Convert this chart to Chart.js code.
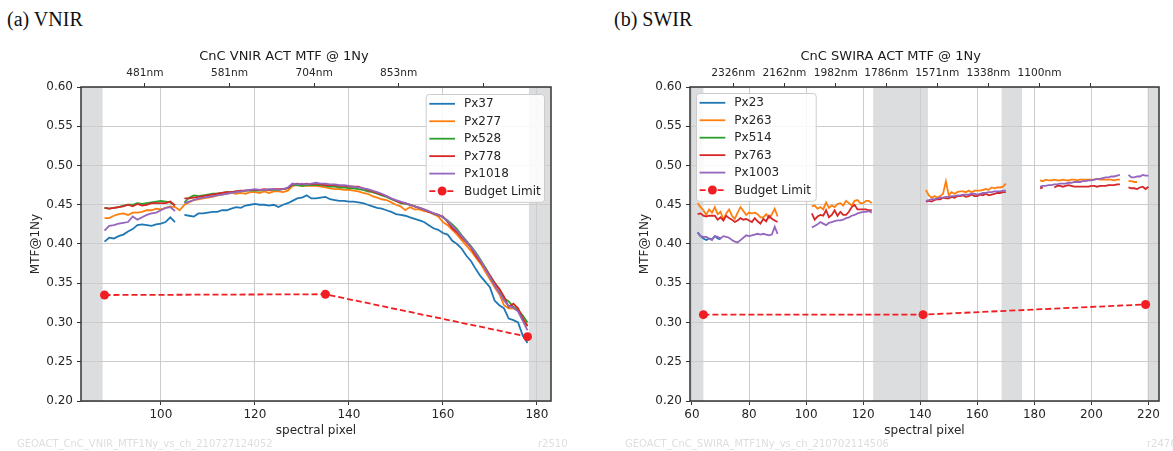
<!DOCTYPE html>
<html>
<head>
<meta charset="utf-8">
<script src="https://cdn.jsdelivr.net/npm/chart.js@4.4.1/dist/chart.umd.min.js"></script>
<style>
  body { margin: 0; background: #fff; }
  #page { position: relative; width: 1173px; height: 451px; overflow: hidden; font-family: "DejaVu Sans", sans-serif; }
  .panel { position: absolute; top: 8px; font-family: "Liberation Serif", serif; font-size: 20px; color: #111; }
  .stamp { position: absolute; top: 438px; font-size: 10px; line-height: 12px; color: #dedede; white-space: nowrap; }
  canvas { position: absolute; }
</style>
</head>
<body>
<div id="page">
  <div class="panel" style="left:7px">(a) VNIR</div>
  <div class="panel" style="left:614px">(b) SWIR</div>
  <canvas id="vnir" width="560" height="411" style="left:0;top:40px"></canvas>
  <canvas id="swir" width="568" height="411" style="left:600px;top:40px"></canvas>
  <div class="stamp" style="left:17px">GEOACT_CnC_VNIR_MTF1Ny_vs_ch_210727124052</div>
  <div class="stamp" style="left:538px">r2510</div>
  <div class="stamp" style="left:625px">GEOACT_CnC_SWIRA_MTF1Ny_vs_ch_210702114506</div>
  <div class="stamp" style="left:1147px">r2476</div>
</div>
<script>
/* ---------- data: VNIR ---------- */
const vnirPx = [88, 89, 90, 91, 92, 93, 94, 95, 96, 97,
  98, 99, 100, 101, 102, 103, 104, 105, 106, 107,
  108, 109, 110, 111, 112, 113, 114, 115, 116, 117,
  118, 119, 120, 121, 122, 123, 124, 125, 126, 127,
  128, 129, 130, 131, 132, 133, 134, 135, 136, 137,
  138, 139, 140, 141, 142, 143, 144, 145, 146, 147,
  148, 149, 150, 151, 152, 153, 154, 155, 156, 157,
  158, 159, 160, 161, 162, 163, 164, 165, 166, 167,
  168, 169, 170, 171, 172, 173, 174, 175, 176, 177, 178];

const vnirPx37 = [.403, .408, .407, .410, .412, .416, .419, .424, .425, .424,
  .423, .425, .426, .428, .434, .428, null, .437, .436, .435,
  .439, .439, .440, .441, .441, .443, .443, .445, .447, .446,
  .449, .450, .451, .450, .450, .449, .450, .447, .450, .452,
  .455, .458, .459, .462, .458, .458, .459, .460, .457, .456,
  .455, .455, .454, .454, .453, .452, .450, .448, .446, .445,
  .443, .441, .438, .437, .436, .434, .432, .430, .428, .424,
  .420, .418, .414, .412, .404, .400, .394, .385, .378, .368,
  .359, .352, .345, .328, .322, .318, .305, .303, .300, .283, .274];

const vnirPx277 = [.433, .433, .436, .438, .439, .437, .440, .440, .441, .443,
  .443, .445, .444, .446, .448, .447, .443, .450, .453, .456,
  .457, .458, .459, .460, .462, .463, .464, .465, .464, .465,
  .464, .466, .466, .465, .467, .465, .467, .467, .466, .468,
  .474, .475, .474, .474, .474, .474, .473, .472, .471, .470,
  .470, .469, .469, .468, .467, .465, .464, .461, .459, .457,
  .456, .453, .450, .448, .443, .447, .444, .444, .442, .441,
  .438, .435, .428, .424, .418, .412, .405, .398, .391, .383,
  .375, .365, .355, .345, .336, .322, .318, .318, .315, .305, .295];

const vnirPx528 = [.446, .445, .446, .447, .449, .450, .450, .452, .451, .452,
  .453, .454, .455, .454, .453, .449, null, .453, .459, .462,
  .461, .462, .463, .464, .464, .465, .466, .466, .467, .467,
  .468, .468, .468, .468, .469, .469, .469, .469, .470, .471,
  .475, .475, .474, .475, .475, .475, .475, .474, .473, .473,
  .472, .472, .471, .471, .470, .469, .467, .466, .464, .462,
  .460, .457, .455, .452, .451, .450, .448, .446, .444, .441,
  .439, .437, .434, .430, .425, .419, .411, .404, .397, .389,
  .380, .370, .360, .351, .342, .331, .327, .320, .316, .309, .300];

const vnirPx778 = [.446, .445, .446, .447, .448, .450, .448, .451, .449, .450,
  .452, .452, .452, .452, .454, .449, null, .458, .458, .459,
  .460, .461, .462, .463, .464, .465, .466, .466, .467, .468,
  .468, .469, .469, .469, .470, .469, .470, .470, .470, .471,
  .476, .477, .476, .477, .476, .477, .476, .475, .475, .475,
  .474, .474, .473, .473, .473, .471, .469, .467, .465, .463,
  .461, .458, .455, .453, .452, .450, .448, .446, .444, .441,
  .439, .437, .435, .428, .420, .415, .408, .402, .395, .385,
  .377, .369, .360, .350, .343, .333, .320, .324, .318, .305, .296];

const vnirPx1018 = [.417, .423, .424, .426, .427, .428, .435, .431, .434, .437,
  .439, .440, .443, .446, .447, .442, null, .452, .454, .456,
  .458, .459, .460, .461, .462, .463, .464, .465, .466, .467,
  .468, .469, .470, .469, .469, .470, .470, .469, .470, .472,
  .477, .476, .477, .476, .477, .478, .477, .477, .476, .476,
  .475, .475, .474, .473, .472, .471, .470, .468, .466, .464,
  .461, .458, .456, .454, .452, .450, .448, .446, .444, .442,
  .439, .437, .434, .429, .423, .417, .410, .403, .396, .388,
  .379, .368, .358, .347, .338, .328, .321, .319, .314, .302, .290];

const vnirBudgetPx = [88, 135, 178];
const vnirBudget = [0.335, 0.336, 0.282];

const vnirLabels = ['Px37', 'Px277', 'Px528', 'Px778', 'Px1018'];
const vnirTicks = [100, 120, 140, 160, 180];
const vnirTopPos = [96.6, 114.6, 132.6, 150.6, 168.6];
const vnirTopLabels = ['481nm', '581nm', '704nm', '853nm', ''];
const vnirSpans = [[83, 87.6], [178.3, 183]];

/* ---------- data: SWIR (five measured segments) ---------- */
const swirSegPx = [
  [62, 63, 64, 65, 66, 67, 68, 69, 70, 71, 72, 73, 74, 75, 76, 77, 78, 79, 80, 81, 82, 83, 84, 85, 86, 87, 88, 89, 90],
  [102, 103, 104, 105, 106, 107, 108, 109, 110, 111, 112, 113, 114, 115, 116, 117, 118, 119, 120, 121, 122, 123],
  [142, 143, 144, 145, 146, 147, 148, 149, 150, 151, 152, 153, 154, 155, 156, 157, 158, 159, 160, 161, 162, 163, 164, 165, 166, 167, 168, 169, 170],
  [182, 183, 184, 185, 186, 187, 188, 189, 190, 191, 192, 193, 194, 195, 196, 197, 198, 199, 200, 201, 202, 203, 204, 205, 206, 207, 208, 209, 210],
  [213, 214, 215, 216, 217, 218, 219, 220]
];

const swirPx23 = [
  [.415, .410, .407, .405, .407, .406, .410, .407, .406],
  [], [], [], []
];
const swirPx263 = [
  [.452, .447, .443, .437, .444, .440, .447, .438, .441, .431, .439, .444, .436, .432, .440,
   .447, .442, .437, .440, .439, .440, .438, .434, .434, .438, .433, .438, .445, .435],
  [.448, .449, .445, .447, .444, .453, .446, .449, .447, .451, .452, .449, .455, .452, .449,
   .455, .456, .452, .452, .455, .455, .452],
  [.469, .462, .459, .461, .459, .461, .464, .480, .462, .466, .464, .466, .467, .467, .466,
   .468, .466, .468, .468, .468, .469, .470, .469, .472, .471, .472, .472, .473, .477],
  [.481, .480, .482, .481, .481, .482, .481, .481, .482, .481, .481, .482, .482, .481, .482,
   .482, .482, .482, .482, .482, .483, .482, .482, .482, .482, .482, .481, .482, .482],
  [.480, .480, .479, .479]
];
const swirPx514 = [[], [], [], [], []];
const swirPx763 = [
  [.438, .439, .436, .435, .436, .436, .436, .431, .434, .430, .436, .433, .431, .428, .430,
   .433, .431, .432, .430, .428, .433, .429, .426, .432, .429, .436, .432, .430, .428],
  [.439, .431, .435, .437, .436, .443, .434, .437, .443, .436, .441, .437, .437, .441, .447,
   .450, .444, .444, .444, .444, .443, .443],
  [.454, .455, .454, .456, .457, .457, .459, .458, .458, .460, .459, .461, .461, .462, .460,
   .461, .463, .461, .461, .463, .462, .464, .462, .463, .464, .465, .465, .466, .466],
  [.471, .472, null, null, null, .472, .474, .474, .473, .474, .475, .474, .473, .473, .473,
   .473, .473, .473, .474, .474, .473, .474, .474, .474, .475, .475, .475, .476, .476],
  [.472, .471, .471, .470, .472, .473, .470, .473]
];
const swirPx1003 = [
  [.414, .410, .409, .409, .407, .405, .410, .409, .407, .410, .409, .408, .405, .403, .402,
   .405, .408, .411, .410, .411, .412, .413, .412, .413, .412, .411, .412, .422, .413],
  [.421, .423, .425, .428, .426, .424, .427, .428, .429, .430, .430, .431, .433, .434, .436,
   .437, .439, .440, .441, .441, .442, .440],
  [.455, .456, .457, .457, .458, .459, .459, .460, .460, .461, .461, .462, .462, .463, .463,
   .463, .464, .464, .463, .464, .465, .465, .466, .466, .467, .467, .467, .468, .468],
  [.473, .474, .474, .475, .475, .476, .476, .477, .477, .477, .478, .478, .479, .479, .479,
   .480, .480, .481, .481, .482, .483, .483, .484, .485, .485, .486, .486, .487, .488],
  [.488, .485, .485, .486, .486, .488, .487, .487]
];

const swirBudgetPx = [64, 141, 219];
const swirBudget = [0.310, 0.310, 0.323];

const swirLabels = ['Px23', 'Px263', 'Px514', 'Px763', 'Px1003'];
const swirTicks = [60, 80, 100, 120, 140, 160, 180, 200, 220];
const swirTopPos = [74.5, 92.4, 110.4, 128.1, 146.0, 163.9, 181.8, 199.7];
const swirTopLabels = ['2326nm', '2162nm', '1982nm', '1786nm', '1571nm', '1338nm', '1100nm', ''];
const swirSpans = [[59.3, 64], [123.5, 142.7], [168.5, 175.7], [219.7, 223.7]];

const yTicks = [0.20, 0.25, 0.30, 0.35, 0.40, 0.45, 0.50, 0.55, 0.60];
const colors = ['#1f77b4', '#ff7f0e', '#2ca02c', '#d62728', '#9467bd'];
const budgetColor = '#f01e23';

/* ---------- helpers ---------- */
function toPoints(xs, ys) {
  return xs.map((x, i) => ({ x: x, y: ys[i] }));
}

// segments joined by a null point so that the line breaks between them
function segPoints(segPx, segVals) {
  const pts = [];
  segPx.forEach((pxs, s) => {
    if (s > 0) {
      const prev = segPx[s - 1];
      pts.push({ x: (prev[prev.length - 1] + pxs[0]) / 2, y: null });
    }
    pxs.forEach((x, i) => {
      const v = segVals[s][i];
      pts.push({ x: x, y: v === undefined ? null : v });
    });
  });
  return pts;
}

Chart.defaults.font.family = '"DejaVu Sans", sans-serif';
Chart.defaults.font.size = 12;
Chart.defaults.color = '#262626';

const spanPlugin = {
  id: 'spans',
  beforeDraw(chart, args, opts) {
    const ctx = chart.ctx, a = chart.chartArea, x = chart.scales.x;
    ctx.save();
    ctx.fillStyle = '#dcdddf';
    opts.ranges.forEach(r => {
      const l = x.getPixelForValue(r[0]), rr = x.getPixelForValue(r[1]);
      ctx.fillRect(l, a.top, rr - l, a.bottom - a.top);
    });
    ctx.restore();
  }
};

const framePlugin = {
  id: 'frame',
  afterDatasetsDraw(chart) {
    const ctx = chart.ctx, a = chart.chartArea;
    ctx.save();
    ctx.strokeStyle = '#333333';
    ctx.lineWidth = 1.5;
    ctx.strokeRect(a.left, a.top, a.right - a.left, a.bottom - a.top);
    ctx.restore();
  }
};

const boxLegend = {
  id: 'boxLegend',
  afterDraw(chart, args, opts) {
    const ctx = chart.ctx, a = chart.chartArea;
    const sets = chart.data.datasets;
    const rowH = 17.45, w = opts.width, h = 107.8;
    const x0 = opts.side === 'right' ? a.right - opts.inset - w : a.left + opts.inset;
    const y0 = a.top + opts.inset;
    ctx.save();
    ctx.fillStyle = 'rgba(255,255,255,0.85)';
    ctx.strokeStyle = '#cccccc';
    ctx.lineWidth = 1;
    ctx.beginPath();
    ctx.roundRect(x0 + 0.5, y0 + 0.5, w, h, 3);
    ctx.fill();
    ctx.stroke();
    sets.forEach((ds, i) => {
      const cy = y0 + 9.8 + i * rowH;
      ctx.strokeStyle = ds.borderColor;
      ctx.lineWidth = 1.8;
      ctx.setLineDash(ds.borderDash || []);
      ctx.beginPath();
      ctx.moveTo(x0 + 3.6, cy);
      ctx.lineTo(x0 + 29.3, cy);
      ctx.stroke();
      ctx.setLineDash([]);
      if (ds.pointRadius > 0) {
        ctx.fillStyle = ds.borderColor;
        ctx.beginPath();
        ctx.arc(x0 + 16.4, cy, ds.pointRadius, 0, Math.PI * 2);
        ctx.fill();
      }
      ctx.fillStyle = '#262626';
      ctx.font = '12px "DejaVu Sans"';
      ctx.textBaseline = 'middle';
      ctx.fillText(ds.label, x0 + 38.3, cy + 0.5);
    });
    ctx.restore();
  }
};

function makeChart(id, cfg) {
  const datasets = cfg.series.map((pts, i) => ({
    label: cfg.labels[i],
    data: pts,
    borderColor: colors[i],
    borderWidth: 1.8,
    pointRadius: 0,
    spanGaps: false,
    order: 10 - i
  }));
  datasets.push({
    label: 'Budget Limit',
    data: cfg.budget,
    borderColor: budgetColor,
    backgroundColor: budgetColor,
    borderWidth: 1.8,
    borderDash: [6, 3],
    pointRadius: 4.5,
    pointBackgroundColor: budgetColor,
    pointBorderWidth: 0,
    order: 0
  });

  return new Chart(document.getElementById(id), {
    type: 'line',
    data: { datasets: datasets },
    plugins: [spanPlugin, framePlugin, boxLegend],
    options: {
      responsive: false,
      animation: false,
      layout: { padding: { left: cfg.padLeft, right: 9, top: 0, bottom: 0 } },
      plugins: {
        legend: { display: false },
        tooltip: { enabled: false },
        title: {
          display: true,
          text: cfg.title,
          color: '#1a1a1a',
          font: { size: 13, weight: 'normal' },
          padding: { top: 9, bottom: 0 }
        },
        spans: { ranges: cfg.spans },
        boxLegend: cfg.legend
      },
      scales: {
        x: {
          type: 'linear',
          position: 'bottom',
          min: cfg.xMin,
          max: cfg.xMax,
          afterBuildTicks: s => { s.ticks = cfg.xTicks.map(v => ({ value: v })); },
          afterFit: s => { s.height = 50; },
          ticks: { autoSkip: false, maxRotation: 0, padding: 3, callback: v => String(v) },
          grid: { color: '#cccccc', tickColor: '#333333', tickLength: 4 },
          border: { display: false },
          title: { display: true, text: 'spectral pixel', font: { size: 12 }, padding: { top: 0, bottom: 12.8 } }
        },
        xTop: {
          type: 'linear',
          axis: 'x',
          position: 'top',
          min: cfg.xMin,
          max: cfg.xMax,
          afterBuildTicks: s => { s.ticks = cfg.topPos.map(v => ({ value: v })); },
          afterFit: s => { s.height = 22.4; },
          ticks: { autoSkip: false, maxRotation: 0, padding: 3, font: { size: 10.6 }, callback: (v, i) => cfg.topLabels[i] },
          grid: { drawOnChartArea: false, tickColor: '#333333', tickLength: 4 },
          border: { display: false }
        },
        y: {
          min: 0.2,
          max: 0.6,
          afterBuildTicks: s => { s.ticks = yTicks.map(v => ({ value: v })); },
          afterFit: s => { s.width = cfg.yWidth; },
          ticks: { padding: 4, callback: v => v.toFixed(2) },
          grid: { color: '#cccccc', tickColor: '#333333', tickLength: 4 },
          border: { display: false },
          title: { display: true, text: 'MTF@1Ny', font: { size: 12 }, padding: { top: cfg.yTitlePad, bottom: 0 } }
        }
      }
    }
  });
}

makeChart('vnir', {
  title: 'CnC VNIR ACT MTF @ 1Ny',
  labels: vnirLabels,
  series: [vnirPx37, vnirPx277, vnirPx528, vnirPx778, vnirPx1018].map(ys => toPoints(vnirPx, ys)),
  budget: toPoints(vnirBudgetPx, vnirBudget),
  xMin: 83, xMax: 183,
  xTicks: vnirTicks,
  topPos: vnirTopPos,
  topLabels: vnirTopLabels,
  spans: vnirSpans,
  padLeft: 17,
  yWidth: 64,
  yTitlePad: 11.3,
  legend: { side: 'right', inset: 7, width: 118.3 }
});

makeChart('swir', {
  title: 'CnC SWIRA ACT MTF @ 1Ny',
  labels: swirLabels,
  series: [swirPx23, swirPx263, swirPx514, swirPx763, swirPx1003].map(v => segPoints(swirSegPx, v)),
  budget: toPoints(swirBudgetPx, swirBudget),
  xMin: 59.3, xMax: 223.7,
  xTicks: swirTicks,
  topPos: swirTopPos,
  topLabels: swirTopLabels,
  spans: swirSpans,
  padLeft: 22.4,
  yWidth: 67.6,
  yTitlePad: 15.1,
  legend: { side: 'left', inset: 6, width: 119.7 }
});
</script>
</body>
</html>
